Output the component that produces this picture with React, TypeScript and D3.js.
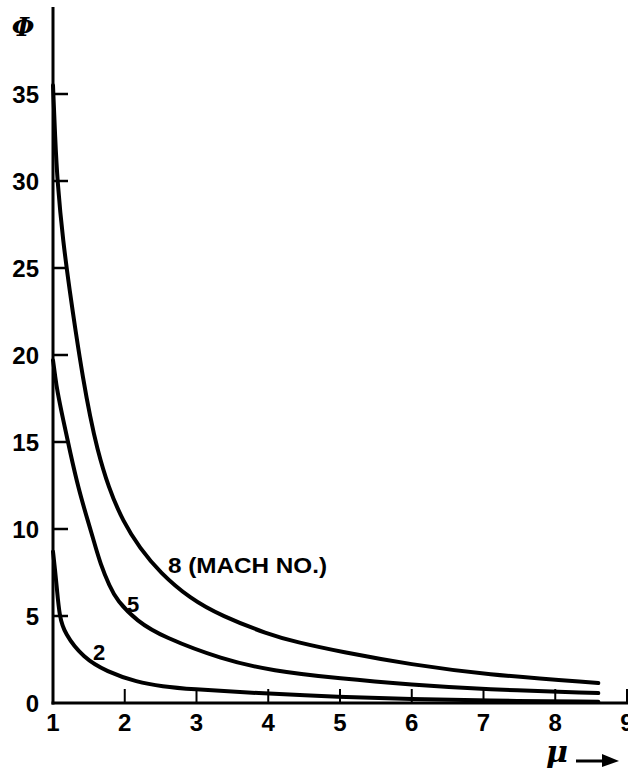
import * as d3 from "d3";

// readings taken off the plot: [mu, phi]
const mach8: [number, number][] = [
  [1.0, 35.5], [1.03, 32.5], [1.06, 30], [1.14, 26.5], [1.24, 23.5], [1.31, 21.5], [1.42, 18.6],
  [1.52, 16.4], [1.61, 14.7], [1.77, 12.4], [1.98, 10.4], [2.21, 8.9], [2.49, 7.5],
  [2.91, 6.0], [3.35, 5.0], [4, 3.95], [4.39, 3.5], [5, 2.95], [6, 2.2], [7, 1.65], [8.6, 1.15],
];
const mach5: [number, number][] = [
  [1.0, 19.7], [1.03, 18.8], [1.056, 18], [1.14, 16.3], [1.24, 14.4], [1.35, 12.4], [1.49, 10.4],
  [1.57, 9.3], [1.66, 8.0], [1.79, 6.7], [1.89, 5.9], [2.17, 4.7], [2.53, 3.8],
  [3.36, 2.5], [4.05, 1.85], [5, 1.4], [6, 1.05], [7, 0.78], [8.6, 0.57],
];
const mach2: [number, number][] = [
  [1.0, 8.7], [1.03, 7.6], [1.056, 6.5], [1.09, 5.0], [1.16, 4.0], [1.42, 2.6], [1.75, 1.8],
  [2.17, 1.2], [2.53, 0.95], [2.9, 0.8], [3.83, 0.57], [5, 0.34], [6, 0.22],
  [7, 0.14], [8.6, 0.07],
];
const xTicks = [1, 2, 3, 4, 5, 6, 7, 8, 9];
const yTicks = [0, 5, 10, 15, 20, 25, 30, 35];

const width = 628;
const height = 774;
const font = "'Liberation Sans', Arial, sans-serif";

export default function App() {
  const x = d3.scaleLinear().domain([1, 9]).range([53, 627]);
  const y = d3.scaleLinear().domain([0, 35]).range([703, 94]);
  const line = d3
    .line<[number, number]>()
    .x((d) => x(d[0]))
    .y((d) => y(d[1]))
    .curve(d3.curveBasis);

  return (
    <svg
      width={width}
      height={height}
      viewBox={`0 0 ${width} ${height}`}
      style={{ position: "absolute", left: 0, top: 0, background: "#fff" }}
    >
      {/* axes */}
      <line x1={x(1)} x2={x(1)} y1={7} y2={y(0) + 1.5} stroke="#000" strokeWidth={3} />
      <line x1={x(1) - 1.5} x2={width} y1={y(0)} y2={y(0)} stroke="#000" strokeWidth={3} />

      {yTicks.map((t) => (
        <g key={`y${t}`}>
          {t > 0 ? (
            <line x1={x(1)} x2={x(1) + 15} y1={y(t)} y2={y(t)} stroke="#000" strokeWidth={2.5} />
          ) : null}
          <text
            x={39}
            y={y(t)}
            dy="0.36em"
            textAnchor="end"
            fontFamily={font}
            fontWeight="bold"
            fontSize={24}
          >
            {t}
          </text>
        </g>
      ))}

      {xTicks.map((t) => (
        <g key={`x${t}`}>
          {t > 1 ? (
            <line x1={x(t)} x2={x(t)} y1={y(0)} y2={y(0) - 14} stroke="#000" strokeWidth={2} />
          ) : null}
          <text
            x={x(t)}
            y={731}
            textAnchor="middle"
            fontFamily={font}
            fontWeight="bold"
            fontSize={24}
          >
            {t}
          </text>
        </g>
      ))}

      {/* curves */}
      {[mach8, mach5, mach2].map((s, i) => (
        <path key={i} d={line(s) ?? undefined} fill="none" stroke="#000" strokeWidth={4} strokeLinecap="round" />
      ))}

      {/* curve labels */}
      <text x={168} y={573} fontFamily={font} fontWeight="bold" fontSize={22} textLength={159} lengthAdjust="spacingAndGlyphs">
        8  (MACH NO.)
      </text>
      <text x={127} y={612} fontFamily={font} fontWeight="bold" fontSize={22}>5</text>
      <text x={93} y={660} fontFamily={font} fontWeight="bold" fontSize={22}>2</text>

      {/* axis titles */}
      <text x={23} y={36} textAnchor="middle" fontFamily="'DejaVu Serif', serif" fontWeight="bold" fontStyle="italic" fontSize={26}>
        Φ
      </text>
      <text x={557} y={762} textAnchor="middle" fontFamily="'DejaVu Serif', serif" fontWeight="bold" fontStyle="italic" fontSize={30}>
        μ
      </text>
      <line x1={576} x2={604} y1={761} y2={761} stroke="#000" strokeWidth={3} />
      <path d="M602,754 L619,761 L602,767 Z" fill="#000" />
    </svg>
  );
}
